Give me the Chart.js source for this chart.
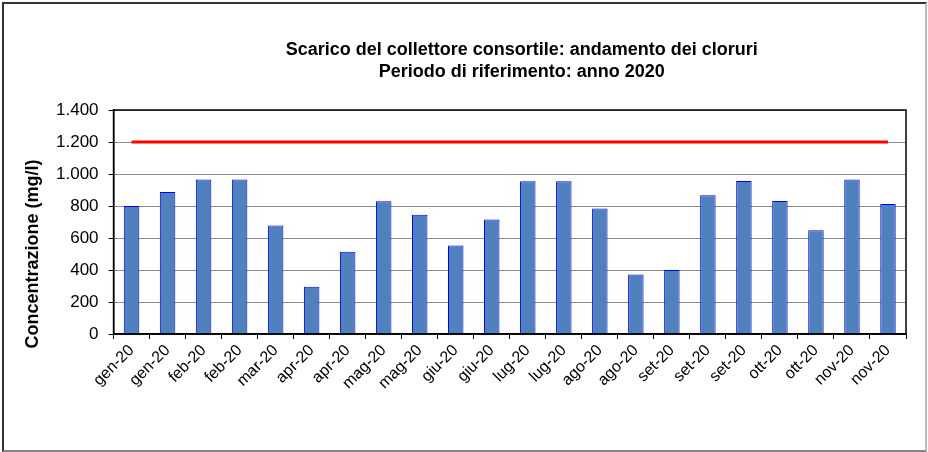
<!DOCTYPE html>
<html>
<head>
<meta charset="utf-8">
<script src="https://cdn.jsdelivr.net/npm/chart.js@4.4.1/dist/chart.umd.min.js"></script>
<style>
  html, body { margin: 0; padding: 0; background: #fff; }
  #wrap { position: relative; width: 928px; height: 452px; }
  #frame {
    position: absolute; left: 2px; top: 2px; width: 921px; height: 446px;
    border-left: 2px solid #333; border-top: 2px solid #333;
    border-right: 2px solid #bbb; border-bottom: 2px solid #888;
    pointer-events: none;
  }
</style>
</head>
<body>
<div id="wrap">
  <canvas id="myChart"></canvas>
  <div id="frame"></div>
</div>
<script>
const months = ['gen-20', 'gen-20', 'feb-20', 'feb-20', 'mar-20', 'apr-20', 'apr-20', 'mag-20', 'mag-20', 'giu-20', 'giu-20',
                'lug-20', 'lug-20', 'ago-20', 'ago-20', 'set-20', 'set-20', 'set-20', 'ott-20', 'ott-20', 'nov-20', 'nov-20'];
const chlorides = [800, 887, 965, 965, 678, 295, 515, 830, 745, 553, 716, 955, 955, 784, 372, 400, 868, 956, 831, 649, 965, 812];
const limit = [1200, 1200, 1200, 1200, 1200, 1200, 1200, 1200, 1200, 1200, 1200,
               1200, 1200, 1200, 1200, 1200, 1200, 1200, 1200, 1200, 1200, 1200];
const yTickLabels = ['0', '200', '400', '600', '800', '1.000', '1.200', '1.400'];
const titleLines = ['Scarico del collettore consortile: andamento dei cloruri', 'Periodo di riferimento: anno 2020'];
const yTitle = 'Concentrazione (mg/l)';

const FONT = 'Arial, "Liberation Sans", sans-serif';

// black box round the plot area
const plotBorder = {
    id: 'plotBorder',
    afterDatasetsDraw(chart) {
        const a = chart.chartArea;
        const c = chart.ctx;
        c.save();
        c.strokeStyle = '#000';
        c.lineWidth = 1.5;
        c.strokeRect(a.left, a.top, a.right - a.left, a.bottom - a.top);
        c.restore();
    }
};

// titles placed the way the original spreadsheet chart has them
// (main title a bit right of the plot centre, axis title a bit low)
const chartTitles = {
    id: 'chartTitles',
    afterDraw(chart) {
        const a = chart.chartArea;
        const c = chart.ctx;
        c.save();
        c.fillStyle = '#000';
        c.font = 'bold 18px ' + FONT;
        c.textAlign = 'center';
        c.textBaseline = 'middle';
        const x = (a.left + a.right) / 2 + 12;
        titleLines.forEach((t, i) => c.fillText(t, x, 50 + i * 22));
        c.translate(33, (a.top + a.bottom) / 2 + 32);
        c.rotate(-Math.PI / 2);
        c.fillText(yTitle, 0, 0);
        c.restore();
    }
};

const ctx = document.getElementById('myChart').getContext('2d');
const myChart = new Chart(ctx, {
    data: {
        labels: months,
        datasets: [{
            type: 'line',
            label: 'Limite',
            data: limit,
            borderColor: '#ff0000',
            borderWidth: 3,
            pointRadius: 0,
            order: 0
        }, {
            type: 'bar',
            label: 'Cloruri',
            data: chlorides,
            backgroundColor: '#4f81bd',
            borderColor: '#0000ff',
            borderWidth: 1,
            barPercentage: 0.43,
            categoryPercentage: 1,
            order: 1
        }]
    },
    options: {
        responsive: true,
        maintainAspectRatio: false,
        animation: false,
        layout: { padding: { left: 46, right: 22, top: 110, bottom: 57 } },
        plugins: {
            legend: { display: false },
            tooltip: { enabled: false },
            title: { display: false }
        },
        scales: {
            x: {
                grid: { offset: true, drawOnChartArea: false, drawTicks: true, tickLength: 5, color: '#000' },
                border: { color: '#000', width: 1.5 },
                ticks: {
                    color: '#000',
                    minRotation: 45,
                    maxRotation: 45,
                    autoSkip: false,
                    padding: 2,
                    font: { family: FONT, size: 16 }
                }
            },
            y: {
                min: 0,
                max: 1400,
                ticks: {
                    stepSize: 200,
                    color: '#000',
                    padding: 10,
                    font: { family: FONT, size: 17 },
                    callback: (v, i) => yTickLabels[i]
                },
                grid: { color: '#8c8c8c', tickColor: '#000', tickLength: 5 },
                border: { color: '#000', width: 1.5 }
            }
        }
    },
    plugins: [plotBorder, chartTitles]
});
</script>
</body>
</html>
